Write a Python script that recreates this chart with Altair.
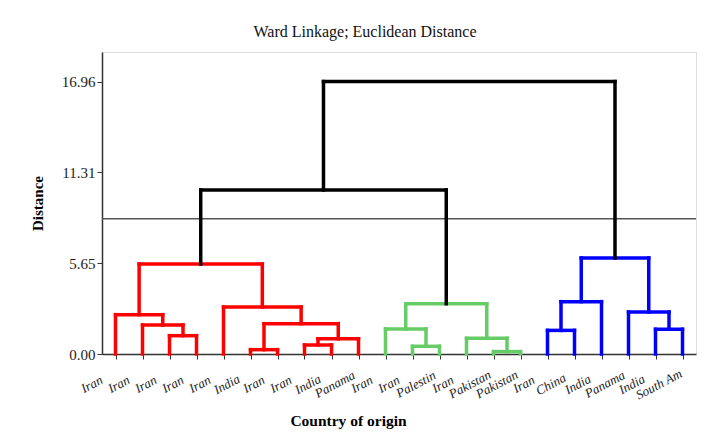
import altair as alt
import pandas as pd

# Leaf labels (left to right)
leaf_labels = ["Iran", "Iran", "Iran", "Iran", "Iran", "India", "Iran", "Iran",
               "India", "Panama", "Iran", "Iran", "Palestin", "Iran", "Pakistan",
               "Pakistan", "Iran", "China", "India", "Panama", "India", "South Am"]

# Merges: node ids 0..21 are leaves, merges create ids 22, 23, ...
merge_left = [2, 1, 0, 5, 7, 26, 25, 4, 24, 11, 10, 14, 13, 32, 16, 36, 20, 19, 37, 30, 41]
merge_right = [3, 22, 23, 6, 8, 9, 27, 28, 29, 12, 31, 15, 33, 34, 17, 18, 21, 38, 39, 35, 40]
merge_height = [1.14, 1.80, 2.45, 0.27, 0.56, 0.95, 1.89, 2.93, 5.60,
                0.48, 1.56, 0.15, 0.98, 3.13,
                1.47, 3.26, 1.54, 2.61, 5.98,
                10.21, 16.96]
merge_group = ["red"] * 9 + ["green"] * 5 + ["blue"] * 5 + ["black"] * 2

cut_height = [8.42]
y_ticks = [0.0, 5.65, 11.31, 16.96]

color_map = {"red": "#FF0000", "green": "#66CC66", "blue": "#0000FF", "black": "#000000"}

# tree layout: node x = leaf index or midpoint of children
n = len(leaf_labels)
pos = {i: float(i) for i in range(n)}
hgt = {i: 0.0 for i in range(n)}
segs = []
for k, (l, r, h, g) in enumerate(zip(merge_left, merge_right, merge_height, merge_group)):
    node = n + k
    pos[node] = (pos[l] + pos[r]) / 2
    hgt[node] = h
    segs.append(dict(x=pos[l], x2=pos[l], y=hgt[l], y2=h, g=g))
    segs.append(dict(x=pos[r], x2=pos[r], y=hgt[r], y2=h, g=g))
    segs.append(dict(x=pos[l], x2=pos[r], y=h, y2=h, g=g))
df = pd.DataFrame(segs)

label_js = "[" + ",".join("'" + s + "'" for s in leaf_labels) + "]"

xscale = alt.Scale(domain=[-0.5, n - 0.5], nice=False, zero=False)
yscale = alt.Scale(domain=[0, 18.8], nice=False, zero=True)

FONT = "Liberation Serif"

xaxis = alt.Axis(
    values=list(range(n)),
    labelExpr=label_js + "[datum.value]",
    title="Country of origin",
    titleFont=FONT, titleFontSize=15.5, titleFontWeight="bold", titleColor="#000",
    titleX=246, titleY=66, titleBaseline="middle", titleAlign="center",
    labelFont=FONT, labelFontSize=13, labelFontStyle="italic", labelColor="#222",
    labelAngle=-28, labelAlign="center", labelBaseline="middle",
    labelPadding=25, labelOffset=-24,
    labelOverlap=False, labelFlush=False, labelBound=False,
    tickSize=5, tickColor="#333", domainColor="#333", domainWidth=1.5, grid=False,
)
yaxis = alt.Axis(
    values=y_ticks, format=".2f",
    title="Distance",
    titleFont=FONT, titleFontSize=15, titleFontWeight="bold", titleColor="#000",
    titleX=-65, titleY=151, titleBaseline="middle", titleAlign="center", titleAngle=-90,
    labelFont=FONT, labelFontSize=15, labelColor="#222", labelPadding=2,
    tickSize=5, tickColor="#333", domainColor="#333", domainWidth=1.5, grid=False,
)

tree = alt.Chart(df).mark_rule(strokeWidth=3.5, strokeCap="square").encode(
    x=alt.X("x:Q", scale=xscale, axis=xaxis),
    x2="x2:Q",
    y=alt.Y("y:Q", scale=yscale, axis=yaxis),
    y2="y2:Q",
    color=alt.Color("g:N", scale=alt.Scale(domain=list(color_map.keys()),
                                           range=list(color_map.values())), legend=None),
)

cut = alt.Chart(pd.DataFrame({"h": cut_height})).mark_rule(
    color="#555", strokeWidth=1.5
).encode(y=alt.Y("h:Q", scale=yscale))

chart = alt.layer(cut, tree).properties(
    width=594, height=302,
    autosize=alt.AutoSizeParams(type="none"),
    padding={"left": 94, "top": 44, "right": 15, "bottom": 76},
    title=alt.TitleParams("Ward Linkage; Euclidean Distance", font=FONT, fontSize=16,
                          fontWeight="normal", color="#111", dx=-34, offset=12,
                          anchor="middle"),
).configure_view(stroke="#666", strokeWidth=1.5).configure(background="white")

chart.save("out.html", embed_options={"renderer": "svg", "actions": False})
